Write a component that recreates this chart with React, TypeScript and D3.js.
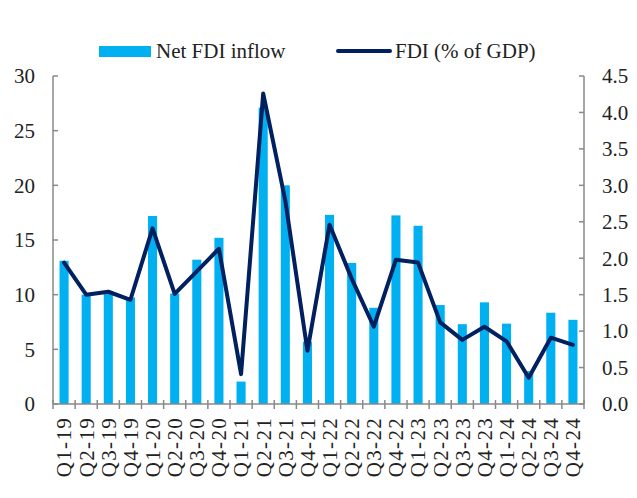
// FDI chart — quarterly net FDI inflow (bars, left axis) and FDI as % of GDP (line, right axis)
import { useEffect, useRef } from 'react'
import * as d3 from 'd3'

const W = 637
const H = 498
const LEFT = 53
const RIGHT = 584
const TOP = 76
const BOTTOM = 404

const BAR_COLOR = '#00B0F0'
const LINE_COLOR = '#002060'
const AXIS_COLOR = '#898989'
const TEXT_COLOR = '#222'
const FONT = '"Liberation Serif", "DejaVu Serif", serif'

const QUARTERS = [
  'Q1-19', 'Q2-19', 'Q3-19', 'Q4-19',
  'Q1-20', 'Q2-20', 'Q3-20', 'Q4-20',
  'Q1-21', 'Q2-21', 'Q3-21', 'Q4-21',
  'Q1-22', 'Q2-22', 'Q3-22', 'Q4-22',
  'Q1-23', 'Q2-23', 'Q3-23', 'Q4-23',
  'Q1-24', 'Q2-24', 'Q3-24', 'Q4-24',
]

const NET_FDI_INFLOW = [
  13.1, 10.0, 10.3, 9.75,
  17.2, 10.1, 13.2, 15.2,
  2.05, 27.1, 20.0, 5.7,
  17.3, 12.9, 8.8, 17.25,
  16.3, 9.05, 7.3, 9.3,
  7.35, 3.0, 8.35, 7.7,
]

const FDI_PCT_GDP = [
  1.94, 1.50, 1.54, 1.43,
  2.41, 1.51, 1.82, 2.13,
  0.41, 4.26, 2.79, 0.73,
  2.46, 1.72, 1.06, 1.98,
  1.94, 1.12, 0.88, 1.06,
  0.86, 0.36, 0.91, 0.81,
]

const LEFT_TICKS = [0, 5, 10, 15, 20, 25, 30]
const RIGHT_TICKS = [0, 0.5, 1, 1.5, 2, 2.5, 3, 3.5, 4, 4.5]

const SERIES_BAR = 'Net FDI inflow'
const SERIES_LINE = 'FDI (% of GDP)'

export default function App() {
  const svgRef = useRef<SVGSVGElement | null>(null)

  useEffect(() => {
    if (!svgRef.current) return
    const svg = d3.select(svgRef.current)
    svg.selectAll('*').remove()

    const x = d3.scaleBand<string>().domain(QUARTERS).range([LEFT, RIGHT]).padding(0)
    const yL = d3.scaleLinear().domain([0, 30]).range([BOTTOM, TOP])
    const yR = d3.scaleLinear().domain([0, 4.5]).range([BOTTOM, TOP])
    const barW = x.bandwidth() * 0.41

    // ── Bars ─────────────────────────────────────────────────────────────
    svg.append('g')
      .selectAll('rect')
      .data(NET_FDI_INFLOW)
      .join('rect')
      .attr('x', (_, i) => x(QUARTERS[i])! + (x.bandwidth() - barW) / 2)
      .attr('y', (d) => yL(d))
      .attr('width', barW)
      .attr('height', (d) => yL(0) - yL(d))
      .attr('fill', BAR_COLOR)

    // ── Axes ─────────────────────────────────────────────────────────────
    const axisG = svg.append('g')
      .attr('stroke', AXIS_COLOR)
      .attr('stroke-width', 1.5)
      .attr('fill', 'none')

    axisG.append('line').attr('x1', LEFT).attr('x2', LEFT).attr('y1', TOP).attr('y2', BOTTOM)
    axisG.append('line').attr('x1', RIGHT).attr('x2', RIGHT).attr('y1', TOP).attr('y2', BOTTOM)
    axisG.append('line').attr('x1', LEFT).attr('x2', RIGHT).attr('y1', BOTTOM).attr('y2', BOTTOM)

    // inward ticks on value axes
    LEFT_TICKS.forEach((t) => {
      axisG.append('line').attr('x1', LEFT).attr('x2', LEFT + 5).attr('y1', yL(t)).attr('y2', yL(t))
    })
    RIGHT_TICKS.forEach((t) => {
      axisG.append('line').attr('x1', RIGHT - 5).attr('x2', RIGHT).attr('y1', yR(t)).attr('y2', yR(t))
    })
    // category ticks cross the baseline at band boundaries
    d3.range(QUARTERS.length + 1).forEach((i) => {
      const xx = LEFT + i * x.step()
      axisG.append('line').attr('x1', xx).attr('x2', xx).attr('y1', BOTTOM - 4).attr('y2', BOTTOM + 5)
    })

    const txt = svg.append('g')
      .attr('font-family', FONT)
      .attr('font-size', 21)
      .attr('fill', TEXT_COLOR)

    LEFT_TICKS.forEach((t) => {
      txt.append('text')
        .attr('x', 35).attr('y', yL(t)).attr('dy', '0.35em')
        .attr('text-anchor', 'end')
        .text(t)
    })
    RIGHT_TICKS.forEach((t) => {
      txt.append('text')
        .attr('x', 602).attr('y', yR(t)).attr('dy', '0.35em')
        .attr('text-anchor', 'start')
        .text(d3.format('.1f')(t))
    })
    QUARTERS.forEach((q) => {
      const cx = x(q)! + x.bandwidth() / 2
      txt.append('text')
        .attr('transform', `translate(${cx}, 417) rotate(-90)`)
        .attr('dy', '0.35em')
        .attr('text-anchor', 'end')
        .attr('letter-spacing', 1.3)
        .text(q)
    })

    // ── Line ─────────────────────────────────────────────────────────────
    const line = d3.line<number>()
      .x((_, i) => x(QUARTERS[i])! + x.bandwidth() / 2)
      .y((d) => yR(d))

    svg.append('path')
      .datum(FDI_PCT_GDP)
      .attr('d', line)
      .attr('fill', 'none')
      .attr('stroke', LINE_COLOR)
      .attr('stroke-width', 4)
      .attr('stroke-linejoin', 'round')
      .attr('stroke-linecap', 'round')

    // ── Legend ───────────────────────────────────────────────────────────
    svg.append('rect')
      .attr('x', 99).attr('y', 46).attr('width', 52).attr('height', 11)
      .attr('fill', BAR_COLOR)
    txt.append('text').attr('x', 156).attr('y', 58).text(SERIES_BAR)

    svg.append('line')
      .attr('x1', 338).attr('x2', 390).attr('y1', 51).attr('y2', 51)
      .attr('stroke', LINE_COLOR).attr('stroke-width', 4).attr('stroke-linecap', 'round')
    txt.append('text').attr('x', 395).attr('y', 58).text(SERIES_LINE)
  }, [])

  return (
    <svg
      ref={svgRef}
      width={W}
      height={H}
      style={{ position: 'absolute', left: 0, top: 0, background: '#fff' }}
    />
  )
}
